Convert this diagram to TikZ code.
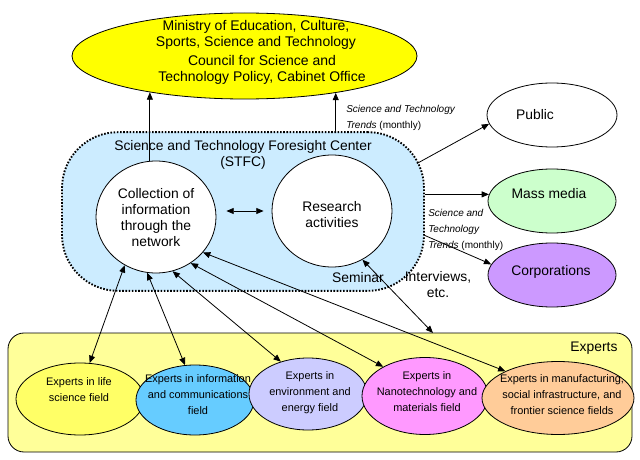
\documentclass[tikz,border=0pt]{standalone}
\usepackage{fontspec}
\setmainfont{Liberation Sans}
\usetikzlibrary{shapes.geometric,arrows.meta,calc}
\definecolor{topyellow}{HTML}{FFFF00}
\definecolor{stfcblue}{HTML}{CCECFF}
\definecolor{massgreen}{HTML}{CCFFCC}
\definecolor{corppurple}{HTML}{CC99FF}
\definecolor{expyellow}{HTML}{FFFF99}
\definecolor{eone}{HTML}{FFFF66}
\definecolor{etwo}{HTML}{66CCFF}
\definecolor{ethree}{HTML}{CCCCFF}
\definecolor{efour}{HTML}{FF99FF}
\definecolor{efive}{HTML}{FFCC99}
\begin{document}
\begin{tikzpicture}[x=0.75pt,y=-0.75pt,
  tip/.tip={Triangle[length=5.5pt,width=4.5pt]},
  arr/.style={-tip, line width=0.6pt},
  dbl/.style={tip-tip, line width=0.6pt},
  oval/.style={ellipse, draw, line width=0.6pt, inner sep=0pt, align=center},
  txt/.style={inner sep=0pt, align=center, font=\fontsize{10.4}{12}\selectfont},
  small/.style={inner sep=0pt, align=center, font=\fontsize{8.2}{12}\selectfont},
  lab/.style={inner sep=0pt, align=left, font=\fontsize{7.5}{12}\selectfont},
]
\useasboundingbox (0,0) rectangle (640,460);

% top ellipse
\node[oval, fill=topyellow, minimum width=258.75pt, minimum height=64.5pt] (top) at (244.5,56) {};
\node[txt, font=\fontsize{10.5}{12}\selectfont] (mext) at (256,35) {Ministry of Education, Culture,\\Sports, Science and Technology};
\node[txt, font=\fontsize{10.5}{12}\selectfont] (cstp) at (262,70) {Council for Science and\\Technology Policy, Cabinet Office};

% STFC
\node[draw, line width=1.4pt, dash pattern=on 1.2pt off 1.2pt, fill=stfcblue,
      rounded corners=42pt, minimum width=271.5pt, minimum height=119pt, inner sep=0pt] (stfc) at (243,211.5) {};
\node[txt] (title) at (243,155) {Science and Technology Foresight Center\\(STFC)};
\node[oval, fill=white, minimum width=90pt, minimum height=84pt] (coll) at (156,217) {};
\node[txt] (colltxt) at (156,217.5) {Collection of\\information\\through the\\network};
\node[oval, fill=white, minimum width=90pt, minimum height=84pt] (research) at (332,211) {};
\node[txt] (restxt) at (332,215) {Research\\activities};
\node[txt] (seminar) at (358,278) {Seminar};
\node[txt] (interv) at (438,285) {Interviews,\\etc.};

% right ellipses
\node[oval, fill=white, minimum width=97.5pt, minimum height=48pt] (public) at (552,115) {};
\node[txt] (pubtxt) at (535,115) {Public};
\node[oval, fill=massgreen, minimum width=96pt, minimum height=48pt] (mass) at (552,201) {};
\node[txt] (masstxt) at (549,194) {Mass media};
\node[oval, fill=corppurple, minimum width=96pt, minimum height=48pt] (corp) at (552,275) {};
\node[txt] (corptxt) at (551,272) {Corporations};

\node[lab, anchor=west] (trendone) at (346,118) {\textit{Science and Technology}\\\textit{Trends} (monthly)};
\node[lab, anchor=west] (trendtwo) at (428,230) {\textit{Science and}\\\textit{Technology}\\\textit{Trends} (monthly)};

% experts
\node[draw, line width=0.6pt, fill=expyellow, rounded corners=12pt, minimum width=468pt, minimum height=89.25pt, inner sep=0pt] (exbox) at (320,392.5) {};
\node[txt] (exlab) at (594,348) {Experts};
\node[oval, fill=eone, minimum width=96pt, minimum height=54pt] (e1) at (80,399) {};
\node[oval, fill=etwo, minimum width=88.5pt, minimum height=52.5pt] (e2) at (195,400) {};
\node[oval, fill=ethree, minimum width=88.5pt, minimum height=54pt] (e3) at (308,394) {};
\node[oval, fill=efour, minimum width=94.5pt, minimum height=57.75pt] (e4) at (425,396) {};
\node[oval, fill=efive, minimum width=114pt, minimum height=54.75pt] (e5) at (558,398) {};
\node[small] (t1) at (79,390) {Experts in life\\science field};
\node[small] (t2) at (198,395) {Experts in information\\and communications\\field};
\node[small] (t3) at (310,393) {Experts in\\environment and\\energy field};
\node[small] (t4) at (427,392) {Experts in\\Nanotechnology and\\materials field};
\node[small] (t5) at (562,395) {Experts in manufacturing,\\social infrastructure, and\\frontier science fields};
\coordinate (ivend) at (433,333);

% connectors
\draw[arr] (top.201 |- coll.north) -- (top.201);
\draw[arr] (top.338 |- stfc.north) -- (top.338);
\draw[dbl, shorten <=7.5pt, shorten >=6pt] (coll.east |- research.west) -- (research.west);
\draw[arr] ([xshift=-6pt,yshift=36pt]stfc.east) -- (public.188);
\draw[arr] (stfc.east |- mass.174) -- (mass.174);
\draw[arr] ([yshift=-18pt]stfc.east) -- (corp.170);
\draw[dbl] (coll.237) -- (e1.75);
\draw[dbl] (coll.261) -- (e2.106);
\draw[dbl] (coll.287) -- (e3.130);
\draw[dbl] (coll.307) -- (e4.145);
\draw[dbl] (coll.323) -- (e5.153);
\draw[dbl] (research.302) -- (ivend);
\end{tikzpicture}
\end{document}
